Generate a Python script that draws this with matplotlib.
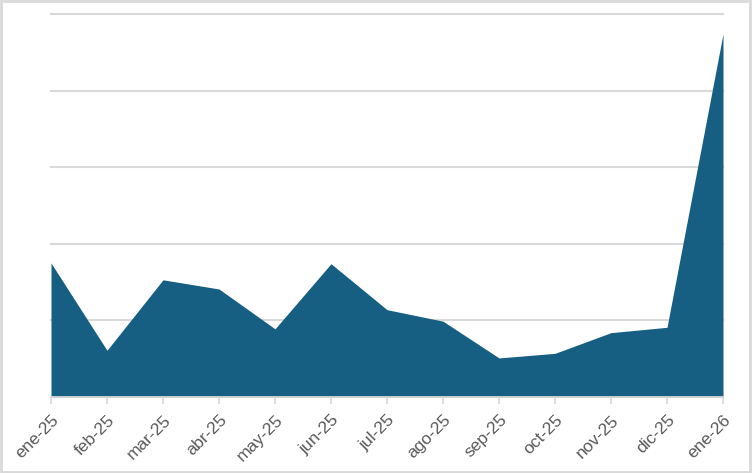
import matplotlib.pyplot as plt
from matplotlib.patches import Rectangle

months = ["ene-25", "feb-25", "mar-25", "abr-25", "may-25", "jun-25", "jul-25",
          "ago-25", "sep-25", "oct-25", "nov-25", "dic-25", "ene-26"]
values = [175, 61, 153, 141, 89, 174, 114, 99, 51, 57, 84, 91, 474]

plt.rcParams['font.family'] = ['Liberation Sans', 'DejaVu Sans']

fig = plt.figure(figsize=(7.52, 4.73), dpi=100)
ax = fig.add_axes([51 / 752, 1 - 397 / 473, 672 / 752, 383 / 473])

x = list(range(len(months)))
ax.fill_between(x, values, 0, color="#165F82", linewidth=0, zorder=2)

ax.set_xlim(0, len(months) - 1)
ax.set_ylim(0, 500)
ax.set_yticks([100, 200, 300, 400, 500])
ax.yaxis.grid(True, color="#d9d9d9", linewidth=1.5, zorder=1)
for gl in ax.get_ygridlines():
    gl.set_clip_on(False)
ax.tick_params(axis="y", left=False, labelleft=False)

ax.set_xticks(x)
ax.set_xticklabels(months, rotation=45, ha="right", rotation_mode="anchor",
                   fontsize=12.5, color="#595959")
ax.tick_params(axis="x", length=5, width=1.3, color="#d9d9d9", pad=6)

for side in ["top", "left", "right"]:
    ax.spines[side].set_visible(False)
ax.spines["bottom"].set_color("#d9d9d9")
ax.spines["bottom"].set_linewidth(1.3)
ax.spines["bottom"].set_zorder(3)

# light frame around the whole figure
fig.patches.append(Rectangle((0.001, 0.002), 0.997, 0.995, transform=fig.transFigure,
                             fill=False, edgecolor="#d9d9d9", linewidth=2))

fig.savefig("out.png", dpi=100)
